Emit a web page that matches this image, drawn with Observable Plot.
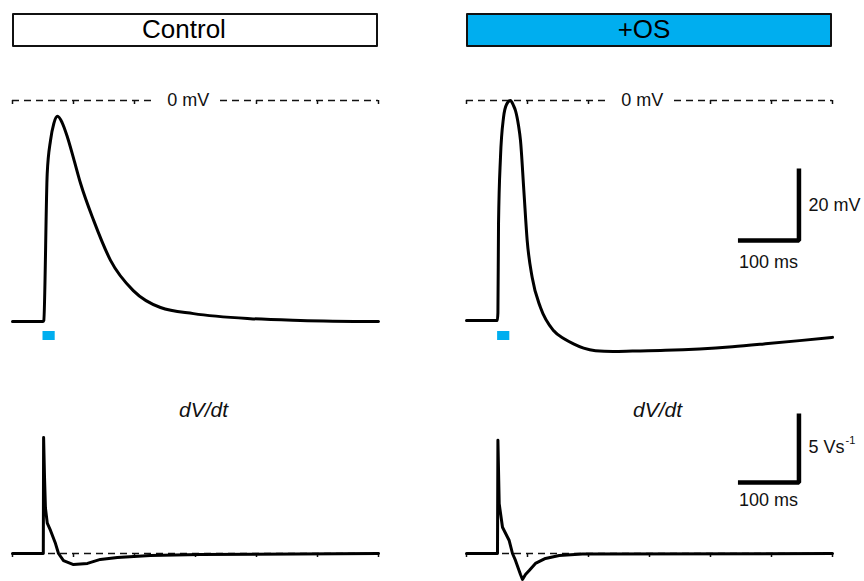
<!DOCTYPE html>
<html>
<head>
<meta charset="utf-8">
<script src="https://cdn.jsdelivr.net/npm/d3@7"></script>
<script src="https://cdn.jsdelivr.net/npm/@observablehq/plot@0.6"></script>
<style>
  html, body { margin: 0; padding: 0; background: #fff; }
  #fig { position: relative; width: 864px; height: 581px; overflow: hidden; font-family: "Liberation Sans", Arial, sans-serif; }
  #fig > * { position: absolute; }
  .hdr { box-sizing: border-box; border: 2.5px solid #111; border-radius: 1px; }
  .hdrtext { font-size: 26px; line-height: 33px; color: #000; white-space: nowrap; transform: translateX(-50%); }
</style>
</head>
<body>
<div id="fig"></div>
<script>
// ---------- data ----------
const conditions = ["Control", "+OS"];
const headerFill = ["#ffffff", "#00aeef"];

// membrane potential traces (time in ms, voltage in mV)
const ctrlVTime = [0, 50, 51.3, 56.9, 62.3, 67.7, 73.8, 81.5, 89.7, 100, 111.5, 133, 160.7, 198, 242.6, 296.7, 390, 472, 600];
const ctrlVmV   = [-61.4, -61.4, -61.1, -20.3, -11.1, -6.4, -4.4, -6.2, -10.0, -16.0, -23, -33.3, -44.4, -52.8, -57.5, -59.2, -60.6, -61.1, -61.4];

const osVTime = [0, 50.5, 51.5, 52.5, 55.7, 60.7, 65.6, 72.1, 77, 80.3, 85.2, 88.5, 94, 99.5, 107.7, 121.3, 142.6, 160, 175.4, 192, 211.5, 240, 272, 326, 382, 436, 490, 546, 600];
const osVmV   = [-61.1, -61.1, -59, -34.2, -15.8, -4.7, -1.1, 0, -1.4, -2.8, -6.9, -11.1, -25, -38.9, -49.2, -57.5, -63.9, -66.2, -67.6, -68.8, -69.5, -69.7, -69.6, -69.4, -69.0, -68.4, -67.6, -66.7, -65.8];

// dV/dt traces (time in ms, V/s)
const ctrlDTime = [0, 50.5, 51, 52.5, 54, 57, 62.3, 70.5, 75.4, 83.6, 100, 123, 144, 172, 226, 308, 600];
const ctrlDVs   = [0, 0, 8.4, 5.5, 3.3, 2.2, 1.67, 0.72, 0, -0.51, -0.8, -0.72, -0.43, -0.29, -0.14, -0.07, 0];

const osDTime = [0, 50.8, 51.5, 53.6, 59, 70, 75.4, 80.3, 88.5, 91.8, 96.7, 102.8, 113, 129.5, 152, 190, 600];
const osDVs   = [0, 0, 8.2, 3.6, 1.9, 0.94, 0, -0.5, -1.52, -1.88, -1.52, -1.23, -0.72, -0.36, -0.14, -0.04, 0];

// stimulus (ms)
const stimStart = [50, 51];
const stimEnd = [70, 71];

// time ticks (ms)
const timeTicks = [0, 100, 200, 300, 400, 500, 600];
const zeroLabelTime = 288;

// scale bars
const scaleTimeMs = 100;
const scaleVoltMv = 20;
const scaleRateVs = 5;
const scaleLabels = { volt: "20 mV", rate: "5 Vs", rateSup: "-1", time: "100 ms" };

// ---------- layout ----------
const FONT = '"Liberation Sans", Arial, sans-serif';
const BLUE = "#00aeef";
const pxPerMv = 3.6, pxPerVs = 13.8;
const fig = document.getElementById("fig");

const vTraces = [ctrlVTime.map((t, i) => ({t, v: ctrlVmV[i]})), osVTime.map((t, i) => ({t, v: osVmV[i]}))];
const dTraces = [ctrlDTime.map((t, i) => ({t, v: ctrlDVs[i]})), osDTime.map((t, i) => ({t, v: osDVs[i]}))];

const svgStyle = {background: "transparent", overflow: "visible", position: "absolute"};
const dash = {stroke: "#111", strokeWidth: 1.5, strokeDasharray: "7,5"};

conditions.forEach((name, i) => {
  const left = i * 432;
  const xr = i === 0 ? [12, 378] : [34, 400];

  // header box
  const box = document.createElement("div");
  box.className = "hdr";
  Object.assign(box.style, {left: (left + xr[0]) + "px", top: "13px", width: (xr[1] - xr[0]) + "px", height: "34px", background: headerFill[i]});
  fig.appendChild(box);
  const lab = document.createElement("div");
  lab.className = "hdrtext";
  lab.textContent = name;
  Object.assign(lab.style, {left: (i === 0 ? 184 : 644) + "px", top: "13px"});
  fig.appendChild(lab);

  // ---- voltage panel ----
  const vTop = 60, vH = 300, zeroY = 40;
  const gapA = (155 - 12) / 0.61, gapB = (220 - 12) / 0.61;
  const vMarks = [
    Plot.ruleY([0], {x1: 0, x2: gapA, ...dash}),
    Plot.ruleY([0], {x1: gapB, x2: 600, ...dash}),
    Plot.ruleX(timeTicks.filter(d => d !== 300), {y1: 0, y2: -4 / pxPerMv, stroke: "#111", strokeWidth: 1.5}),
    Plot.text(["0 mV"], {x: zeroLabelTime, y: 0, text: d => d, fontSize: 18, fontFamily: FONT, fill: "#111"}),
    Plot.rect([{a: stimStart[i], b: stimEnd[i]}], {x1: "a", x2: "b", y1: -231 / pxPerMv, y2: -240 / pxPerMv, fill: BLUE}),
    Plot.line(vTraces[i], {x: "t", y: "v", stroke: "#000", strokeWidth: 3, curve: "monotone-x", strokeLinejoin: "round"})
  ];
  if (i === 1) {
    const cT = 545, cV = -140 / pxPerMv;
    vMarks.push(
      Plot.line([{t: cT - scaleTimeMs, v: cV}, {t: cT, v: cV}, {t: cT, v: cV + scaleVoltMv}], {x: "t", y: "v", stroke: "#000", strokeWidth: 4.5, strokeLinejoin: "miter", strokeLinecap: "butt"}),
      Plot.text([scaleLabels.volt], {x: (808 - 466) / 0.61, y: -105 / pxPerMv, text: d => d, textAnchor: "start", fontSize: 18, fontFamily: FONT, fill: "#111"}),
      Plot.text([scaleLabels.time], {x: cT - scaleTimeMs / 2, y: -162 / pxPerMv, text: d => d, fontSize: 18, fontFamily: FONT, fill: "#111"})
    );
  }
  const vp = Plot.plot({
    width: 432, height: vH,
    x: {domain: [0, 600], range: xr, axis: null},
    y: {domain: [-(vH - zeroY) / pxPerMv, zeroY / pxPerMv], range: [vH, 0], axis: null},
    style: svgStyle,
    marks: vMarks
  });
  vp.style.left = left + "px"; vp.style.top = vTop + "px";
  fig.appendChild(vp);

  // ---- dV/dt panel ----
  const dTop = 380, dH = 201, dZero = 173;
  const dMarks = [
    Plot.ruleY([0], {x1: 0, x2: 600, ...dash}),
    Plot.ruleX(timeTicks, {y1: 0, y2: -4 / pxPerVs, stroke: "#111", strokeWidth: 1.5}),
    Plot.text(["dV/dt"], {x: 300, dx: 8, y: (dZero - 30) / pxPerVs, text: d => d, fontSize: 21, fontStyle: "italic", fontFamily: FONT, fill: "#111"}),
    Plot.line(dTraces[i], {x: "t", y: "v", stroke: "#000", strokeWidth: 3, strokeLinejoin: "round"})
  ];
  if (i === 1) {
    const cT = 545, cV = (553 - 482) / pxPerVs;
    dMarks.push(
      Plot.line([{t: cT - scaleTimeMs, v: cV}, {t: cT, v: cV}, {t: cT, v: cV + scaleRateVs}], {x: "t", y: "v", stroke: "#000", strokeWidth: 4.5, strokeLinejoin: "miter", strokeLinecap: "butt"}),
      Plot.text([scaleLabels.rate], {x: (808 - 466) / 0.61, y: (553 - 447) / pxPerVs, text: d => d, textAnchor: "start", fontSize: 18, fontFamily: FONT, fill: "#111"}),
      Plot.text([scaleLabels.rateSup], {x: (808 - 466) / 0.61, dx: 37, dy: -7, y: (553 - 447) / pxPerVs, text: d => d, textAnchor: "start", fontSize: 11, fontFamily: FONT, fill: "#111"}),
      Plot.text([scaleLabels.time], {x: cT - scaleTimeMs / 2, y: (553 - 500) / pxPerVs, text: d => d, fontSize: 18, fontFamily: FONT, fill: "#111"})
    );
  }
  const dp = Plot.plot({
    width: 432, height: dH,
    x: {domain: [0, 600], range: xr, axis: null},
    y: {domain: [-(dH - dZero) / pxPerVs, dZero / pxPerVs], range: [dH, 0], axis: null},
    style: svgStyle,
    marks: dMarks
  });
  dp.style.left = left + "px"; dp.style.top = dTop + "px";
  fig.appendChild(dp);
});
</script>
</body>
</html>
